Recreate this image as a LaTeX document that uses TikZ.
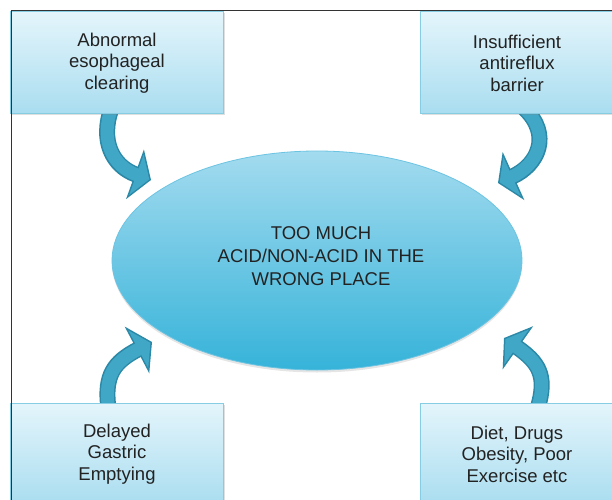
\documentclass[tikz,border=0pt]{standalone}
\usepackage{fontspec}
\setmainfont{Liberation Sans}
\usetikzlibrary{shapes.geometric,arrows.meta,shadows,calc}
\definecolor{boxtop}{HTML}{E4F5FB}
\definecolor{boxbot}{HTML}{A9DDF0}
\definecolor{boxline}{HTML}{86CDE4}
\definecolor{elltop}{HTML}{A3DBEF}
\definecolor{ellmid}{HTML}{6FC8E6}
\definecolor{ellbot}{HTML}{36B3D9}
\definecolor{ellline}{HTML}{6CC4E2}
\definecolor{arrfill}{HTML}{40A7C6}
\definecolor{arrline}{HTML}{2B88A6}
\definecolor{txt}{HTML}{222222}
\definecolor{framecol}{HTML}{333333}
\pgfdeclarelayer{back}
\pgfsetlayers{back,main}
\begin{document}
\begin{tikzpicture}[x=1bp,y=-1bp,
  causebox/.style={draw=boxline, line width=1bp, top color=boxtop, bottom color=boxbot,
    minimum width=212bp, minimum height=102bp, inner sep=0pt, align=center,
    font=\fontsize{18.5bp}{21.5bp}\selectfont, text=txt,
    drop shadow={shadow xshift=1.5bp, shadow yshift=-1.5bp, opacity=0.25}},
  centerell/.style={ellipse, minimum width=410bp, minimum height=219bp, inner sep=0pt,
    top color=elltop, middle color=ellmid, bottom color=ellbot, draw=ellline, line width=0.8bp,
    drop shadow={shadow xshift=0bp, shadow yshift=-2.5bp, opacity=0.2}},
  centertext/.style={align=center, font=\fontsize{18.5bp}{23bp}\selectfont, text=txt, inner sep=0pt},
  arrowouter/.style={line width=16bp, draw=arrline, -{Triangle[length=17bp,width=52bp]}},
  arrowinner/.style={line width=13bp, draw=arrfill, shorten >=1.8bp, -{Triangle[length=13.7bp,width=42bp]}},
]
\clip (0,0) rectangle (612,500);

% cause boxes
\node[causebox] (tl) at (117,63) {Abnormal\\esophageal\\clearing};
\node[causebox, minimum width=194bp] (tr) at (517,63) {Insufficient\\antireflux\\barrier};
\node[causebox] (bl) at (117,454) {Delayed\\Gastric\\Emptying};
\node[causebox, minimum width=194bp] (br) at (517,454) {Diet, Drugs\\Obesity, Poor\\Exercise etc};

% central ellipse
\node[centerell] (c) at (317,260.5) {};
\node[centertext] (ct) at ($(c.center)+(4,-4.5)$) {TOO MUCH\\ACID/NON-ACID IN THE\\WRONG PLACE};

% arrow ends
\coordinate (tls) at ($(tl.south west)+(101,-6)$);
\coordinate (tle) at (151,180);
\coordinate (trs) at ($(tr.south west)+(105,-6)$);
\coordinate (tre) at (498,183);
\coordinate (bls) at ($(bl.north west)+(98,6)$);
\coordinate (ble) at (152,342);
\coordinate (brs) at ($(br.north west)+(118,6)$);
\coordinate (bre) at (504,338);

\begin{pgfonlayer}{back}
  \fill[white] (0,0) rectangle (612,500);
  \draw[arrowouter] (tls) .. controls (100,140) and (112,166) .. (tle);
  \draw[arrowinner] (tls) .. controls (100,140) and (112,166) .. (tle);
  \draw[arrowouter] (trs) .. controls (552,135) and (538,165) .. (tre);
  \draw[arrowinner] (trs) .. controls (552,135) and (538,165) .. (tre);
  \draw[arrowouter] (bls) .. controls (104,375) and (114,362) .. (ble);
  \draw[arrowinner] (bls) .. controls (104,375) and (114,362) .. (ble);
  \draw[arrowouter] (brs) .. controls (548,375) and (538,362) .. (bre);
  \draw[arrowinner] (brs) .. controls (548,375) and (538,362) .. (bre);
\end{pgfonlayer}

% frame
\draw[framecol, line width=1bp] (11,500) -- (11,11) -- (612,11);
\end{tikzpicture}
\end{document}
